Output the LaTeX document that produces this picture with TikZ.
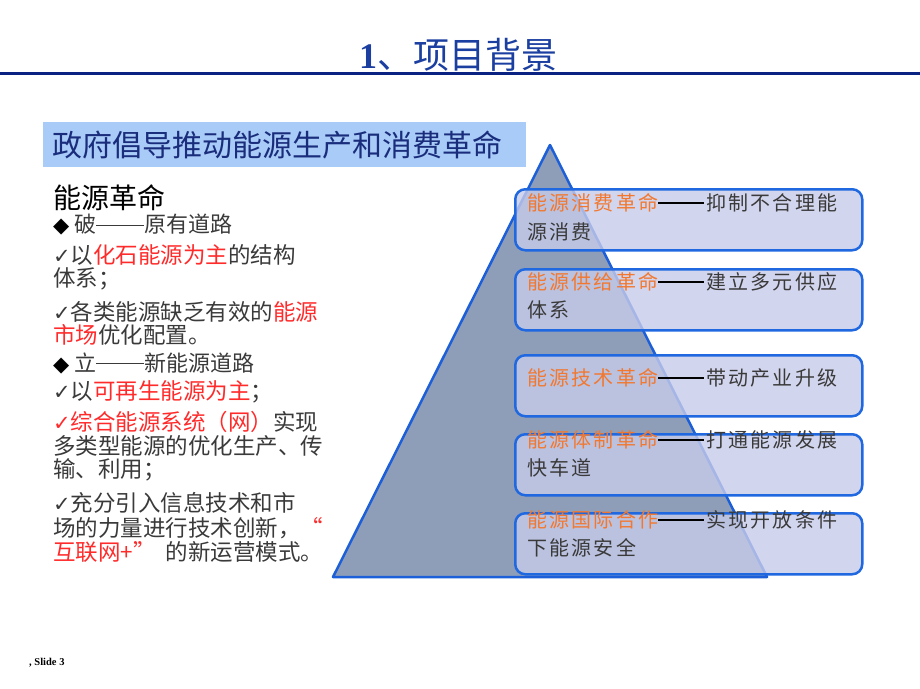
\documentclass[tikz,border=0pt]{standalone}
\usepackage{fontspec}
\setmainfont{Noto Sans CJK SC}
\newfontfamily\cjk{Noto Sans CJK SC}
\newfontfamily\cjkwide[LetterSpace=11]{Noto Sans CJK SC}
\newfontfamily\symfont{DejaVu Sans}
\newfontfamily\timesfont{Liberation Serif}
\definecolor{titleblue}{HTML}{1B3FA0}
\definecolor{navyline}{HTML}{0A2282}
\definecolor{hdrfill}{HTML}{A9CBF7}
\definecolor{hdrtext}{HTML}{1A2D7C}
\definecolor{txtgray}{HTML}{3A3A3A}
\definecolor{hotred}{HTML}{FF2A2A}
\definecolor{revorange}{HTML}{F2782F}
\definecolor{boxblue}{HTML}{2068E0}
\definecolor{boxfill}{HTML}{C7CBEA}
\definecolor{pyrfill}{HTML}{8E9EB8}
\definecolor{pyrline}{HTML}{1C5FD8}
\newcommand{\chk}{{\symfont\fontsize{21}{24}\selectfont ✓}}
\newcommand{\dia}{{\symfont\fontsize{21}{24}\selectfont ◆}}
\newcommand{\hot}[1]{\textcolor{hotred}{#1}}
\newcommand{\rev}[1]{\textcolor{revorange}{#1}}
% long dash drawn as a rule: width, thickness
\newcommand{\longdash}[2]{\rule[0.33em]{#1}{#2}}
\tikzset{
  lefttxt/.style={anchor=west, inner sep=0pt, text=txtgray, font=\cjk\fontsize{22.5}{27}\selectfont},
  revbox/.style={draw=boxblue, line width=2.5pt, rounded corners=10pt, fill=boxfill, fill opacity=0.8,
    minimum width=347pt, minimum height=61pt, anchor=north west},
  boxtxt/.style={anchor=west, inner sep=0pt, text=txtgray, font=\cjkwide\fontsize{20}{24}\selectfont}
}
\begin{document}
\begin{tikzpicture}[x=1pt,y=-1pt]
\useasboundingbox (0,0) rectangle (920,688);
% title
\node [text=titleblue, inner sep=0pt, font=\fontsize{36}{40}\selectfont] (title) at (458,55)
  {{\timesfont\bfseries 1}、项目背景};
\draw [navyline, line width=3pt] (0,73) -- (920,73);
% header bar
\node [fill=hdrfill, inner sep=0pt, minimum width=483pt, minimum height=45pt, anchor=north west] (hdr) at (43,122) {};
\node [anchor=west, inner sep=0pt, text=hdrtext, font=\cjk\fontsize{30}{34}\selectfont] (hdrtxt) at (52,145)
  {政府倡导推动能源生产和消费革命};
% left column
\node [lefttxt, text=black, font=\cjk\fontsize{28}{32}\selectfont] (revtitle) at (53,198) {能源革命};
\node [lefttxt, font=\cjk\fontsize{22}{26}\selectfont] (po) at (53,225) {\textcolor{black}{\dia}\hspace{5pt}破\longdash{48pt}{1pt}原有道路};
\node [lefttxt] (poa) at (53,255) {\chk 以\hot{化石能源为主}的结构};
\node [lefttxt] (pob) at (53,279) {体系；};
\node [lefttxt] (poc) at (53,312) {\chk 各类能源缺乏有效的\hot{能源}};
\node [lefttxt] (pod) at (53,335) {\hot{市场}优化配置。};
\node [lefttxt, font=\cjk\fontsize{22}{26}\selectfont] (li) at (53,363) {\textcolor{black}{\dia}\hspace{5pt}立\longdash{48pt}{1pt}新能源道路};
\node [lefttxt] (lia) at (53,392) {\chk 以\hot{可再生能源为主}；};
\node [lefttxt] (lib) at (53,422) {\hot{\chk 综合能源系统（网）}实现};
\node [lefttxt] (lic) at (53,446) {多类型能源的优化生产、传};
\node [lefttxt] (lid) at (53,470) {输、利用；};
\node [lefttxt] (lie) at (53,503) {\chk 充分引入信息技术和市};
\node [lefttxt] (lif) at (53,528) {场的力量进行技术创新，\hot{“}};
\node [lefttxt] (lig) at (53,552) {\hot{互联网+”}\hspace{10pt}的新运营模式。};
% pyramid
\coordinate (apex) at (550,145);
\coordinate (baseR) at (767,577);
\coordinate (baseL) at (333,577);
\draw [pyrline, fill=pyrfill, line width=2.5pt, line join=round] (apex) -- (baseR) -- (baseL) -- cycle;
% boxes
\node [revbox] (b1) at (514,188) {};
\node [revbox] (b2) at (514,268) {};
\node [revbox] (b3) at (514,354) {};
\node [revbox] (b4) at (514,433) {};
\node [revbox] (b5) at (514,512) {};
\node [boxtxt] (b1a) at (527,203) {\rev{能源消费革命}\textcolor{black}{\longdash{46pt}{1.8pt}}\hspace{2pt}抑制不合理能};
\node [boxtxt] (b1b) at (527,232) {源消费};
\node [boxtxt] (b2a) at (527,282) {\rev{能源供给革命}\textcolor{black}{\longdash{46pt}{1.8pt}}\hspace{2pt}建立多元供应};
\node [boxtxt] (b2b) at (527,310) {体系};
\node [boxtxt] (b3a) at (527,378) {\rev{能源技术革命}\textcolor{black}{\longdash{46pt}{1.8pt}}\hspace{2pt}带动产业升级};
\node [boxtxt] (b4a) at (527,440) {\rev{能源体制革命}\textcolor{black}{\longdash{46pt}{1.8pt}}\hspace{2pt}打通能源发展};
\node [boxtxt] (b4b) at (527,468) {快车道};
\node [boxtxt] (b5a) at (527,520) {\rev{能源国际合作}\textcolor{black}{\longdash{46pt}{1.8pt}}\hspace{2pt}实现开放条件};
\node [boxtxt] (b5b) at (527,548) {下能源安全};
% footer
\node [anchor=west, inner sep=0pt, font=\timesfont\bfseries\fontsize{10.5}{12}\selectfont] (slide) at (29,663) {, Slide 3};
\end{tikzpicture}
\end{document}
